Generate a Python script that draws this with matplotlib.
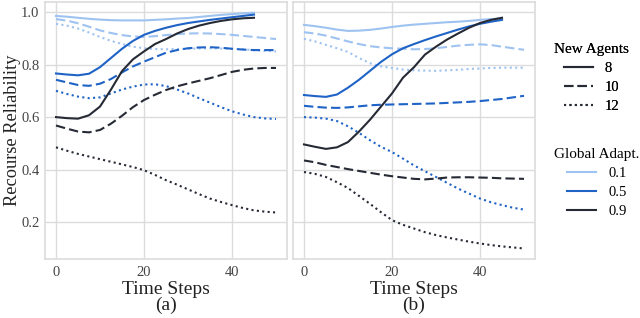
import matplotlib.pyplot as plt
from matplotlib.lines import Line2D

plt.rcParams['font.family'] = ['Liberation Serif', 'DejaVu Serif']

steps = [0, 2.5, 5, 7.5, 10, 12.5, 15, 17.5, 20, 22.5, 25, 27.5, 30, 32.5,
         35, 37.5, 40, 42.5, 45, 47.5, 50]
steps_solid = steps[:19]

adapt_levels = ['0.1', '0.5', '0.9']
agent_counts = ['8', '10', '12']

# panel (a)
a_01_8 = [0.985, 0.982, 0.978, 0.974, 0.971, 0.969, 0.968, 0.968, 0.968, 0.970, 0.972,
          0.975, 0.977, 0.981, 0.985, 0.989, 0.992, 0.995, 0.997]
a_01_10 = [0.973, 0.967, 0.957, 0.944, 0.930, 0.920, 0.912, 0.907, 0.905, 0.908, 0.912,
           0.916, 0.918, 0.919, 0.918, 0.916, 0.913, 0.909, 0.905, 0.901, 0.897]
a_01_12 = [0.955, 0.948, 0.937, 0.922, 0.905, 0.890, 0.878, 0.868, 0.862, 0.859, 0.858,
           0.859, 0.860, 0.861, 0.862, 0.861, 0.860, 0.858, 0.855, 0.852, 0.850]
a_05_8 = [0.766, 0.762, 0.759, 0.765, 0.790, 0.825, 0.860, 0.890, 0.913, 0.928, 0.940,
          0.950, 0.958, 0.964, 0.970, 0.975, 0.980, 0.985, 0.990]
a_05_10 = [0.742, 0.732, 0.722, 0.719, 0.727, 0.745, 0.770, 0.793, 0.811, 0.828, 0.845,
           0.855, 0.862, 0.865, 0.866, 0.864, 0.860, 0.857, 0.855, 0.855, 0.855]
a_05_12 = [0.700, 0.688, 0.678, 0.672, 0.675, 0.690, 0.705, 0.716, 0.724, 0.725, 0.718,
           0.705, 0.690, 0.672, 0.655, 0.638, 0.622, 0.610, 0.600, 0.595, 0.593]
a_09_8 = [0.600, 0.596, 0.594, 0.607, 0.640, 0.705, 0.775, 0.820, 0.850, 0.878, 0.897,
          0.918, 0.935, 0.948, 0.958, 0.966, 0.972, 0.976, 0.978]
a_09_10 = [0.568, 0.556, 0.545, 0.542, 0.551, 0.575, 0.605, 0.638, 0.665, 0.685, 0.703,
           0.717, 0.728, 0.738, 0.748, 0.760, 0.772, 0.780, 0.785, 0.787, 0.787]
a_09_12 = [0.485, 0.472, 0.460, 0.450, 0.440, 0.430, 0.420, 0.410, 0.398, 0.380, 0.360,
           0.343, 0.325, 0.307, 0.290, 0.277, 0.265, 0.254, 0.245, 0.240, 0.237]

# panel (b)
b_01_8 = [0.951, 0.946, 0.940, 0.933, 0.928, 0.929, 0.932, 0.937, 0.943, 0.948, 0.952,
          0.955, 0.958, 0.961, 0.963, 0.966, 0.970, 0.973, 0.975]
b_01_10 = [0.923, 0.918, 0.910, 0.899, 0.888, 0.878, 0.870, 0.865, 0.862, 0.860, 0.858,
           0.859, 0.862, 0.867, 0.872, 0.875, 0.877, 0.874, 0.868, 0.862, 0.856]
b_01_12 = [0.898, 0.888, 0.875, 0.862, 0.848, 0.825, 0.805, 0.793, 0.787, 0.781, 0.778,
           0.777, 0.776, 0.778, 0.780, 0.783, 0.785, 0.787, 0.788, 0.788, 0.788]
b_05_8 = [0.684, 0.680, 0.677, 0.686, 0.712, 0.742, 0.776, 0.810, 0.839, 0.862, 0.878,
          0.893, 0.907, 0.920, 0.933, 0.945, 0.955, 0.963, 0.970]
b_05_10 = [0.643, 0.639, 0.636, 0.635, 0.637, 0.641, 0.645, 0.647, 0.648, 0.649, 0.650,
           0.651, 0.652, 0.654, 0.656, 0.658, 0.661, 0.665, 0.669, 0.675, 0.681]
b_05_12 = [0.600, 0.598, 0.594, 0.585, 0.565, 0.540, 0.512, 0.487, 0.467, 0.442, 0.416,
           0.394, 0.372, 0.350, 0.328, 0.309, 0.290, 0.276, 0.265, 0.255, 0.248]
b_09_8 = [0.496, 0.487, 0.479, 0.485, 0.505, 0.545, 0.590, 0.640, 0.690, 0.750, 0.790,
          0.838, 0.868, 0.895, 0.918, 0.940, 0.958, 0.970, 0.978]
b_09_10 = [0.435, 0.428, 0.418, 0.410, 0.402, 0.395, 0.388, 0.381, 0.375, 0.370, 0.365,
           0.363, 0.366, 0.370, 0.371, 0.371, 0.370, 0.369, 0.367, 0.366, 0.365]
b_09_12 = [0.391, 0.384, 0.372, 0.352, 0.330, 0.300, 0.270, 0.238, 0.208, 0.190, 0.176,
           0.162, 0.151, 0.142, 0.134, 0.126, 0.119, 0.113, 0.108, 0.104, 0.100]

panel_a = [[a_01_8, a_01_10, a_01_12], [a_05_8, a_05_10, a_05_12], [a_09_8, a_09_10, a_09_12]]
panel_b = [[b_01_8, b_01_10, b_01_12], [b_05_8, b_05_10, b_05_12], [b_09_8, b_09_10, b_09_12]]

colors = ['#9ec3f0', '#1f63c6', '#262a35']
styles = ['-', (0, (4.5, 2)), (0, (1, 1.6))]
grid_c = '#dcdcdc'

fig = plt.figure(figsize=(6.4, 3.18), dpi=100)
ax1 = fig.add_axes([45 / 640, 1 - 259 / 318, 242 / 640, 257 / 318])
ax2 = fig.add_axes([293 / 640, 1 - 259 / 318, 242 / 640, 257 / 318], sharey=ax1)

for ax, data, tag in [(ax1, panel_a, '(a)'), (ax2, panel_b, '(b)')]:
    for i in range(3):
        for j in range(3):
            ys = data[i][j]
            xs = steps_solid if j == 0 else steps
            ax.plot(xs, ys, color=colors[i], linestyle=styles[j], lw=1.5,
                    solid_joinstyle='round')
    ax.set_xlim(-2.5, 52.5)
    ax.set_ylim(0.06, 1.038)
    ax.set_xticks([0, 20, 40])
    ax.set_yticks([0.2, 0.4, 0.6, 0.8, 1.0])
    ax.grid(True, color=grid_c, lw=1)
    ax.set_axisbelow(True)
    for s in ax.spines.values():
        s.set_color(grid_c)
        s.set_linewidth(1.2)
    ax.tick_params(length=0, labelsize=10.5, colors='#444444', pad=4)
    ax.tick_params(axis='x', pad=5)
    ax.set_xlabel('Time Steps\n' + tag, fontsize=14, linespacing=0.92, labelpad=1.5,
                  color='#222222')

ax1.set_ylabel('Recourse Reliability', fontsize=13.2, color='#222222')
ax1.yaxis.set_label_coords(-0.1, 0.5)
ax2.tick_params(labelleft=False)

h1 = [Line2D([], [], color='#262a35', linestyle=styles[j], lw=1.5) for j in range(3)]
h2 = [Line2D([], [], color=colors[i], lw=1.5) for i in range(3)]
leg1 = fig.legend(h1, agent_counts, title='New Agents', loc='upper left',
                  bbox_to_anchor=(541 / 640, 1 - 30 / 318), frameon=False,
                  fontsize=10.5, title_fontsize=11, handlelength=2.0,
                  labelspacing=0.4, handletextpad=0.8)
leg2 = fig.legend(h2, adapt_levels, title='Global Adapt.', loc='upper left',
                  bbox_to_anchor=(541 / 640, 1 - 135 / 318), frameon=False,
                  fontsize=10.5, title_fontsize=11, handlelength=2.0,
                  labelspacing=0.4, handletextpad=0.8)
fig.add_artist(leg1)

fig.savefig('out.png', dpi=100)
